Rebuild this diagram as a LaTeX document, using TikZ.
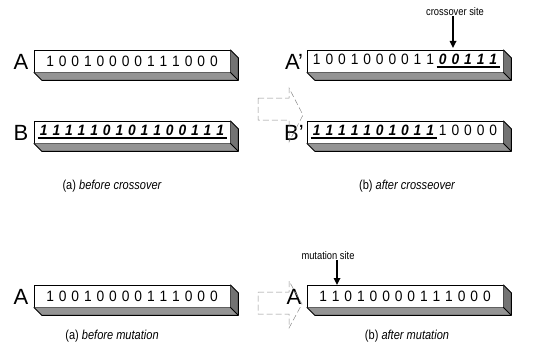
\documentclass[tikz,border=0pt]{standalone}
\usepackage{fontspec}
\setmainfont{Liberation Sans}
\newfontfamily\capfont[FakeStretch=0.85]{Liberation Sans}
\newfontfamily\bitfont[FakeStretch=0.92]{Liberation Sans}
\usetikzlibrary{arrows.meta}

% one digit per fixed-width cell
\newlength\bitw \setlength\bitw{12.6pt}
\def\bitsplit#1{\ifx#1\relax\else\makebox[\bitw]{#1}\expandafter\bitsplit\fi}
\newcommand\plainbits[1]{\bitsplit#1\relax}
\newcommand\ulbits[1]{{\bfseries\itshape\setbox0\hbox{\bitsplit#1\relax}%
  \rlap{\raisebox{-3pt}{\rule{\wd0}{1.3pt}}}\box0}}

\def\dep{8}
\tikzset{
  front/.style={draw, line width=0.5pt, fill=white, minimum width=196, minimum height=22,
    inner sep=0pt, font=\bitfont\fontsize{15}{15}\selectfont},
  bottomface/.style={fill=black!42},
  sideface/.style={fill=black!55},
  edge/.style={line width=1pt, line join=round},
  tag/.style={font=\fontsize{22}{22}\selectfont, inner sep=0pt},
  caption/.style={font=\capfont\fontsize{13}{13}\selectfont, inner sep=0pt},
  sitelabel/.style={font=\capfont\fontsize{11}{11}\selectfont, inner sep=0pt},
  pointer/.style={line width=1.6pt, -{Triangle[length=7pt,width=6.5pt]}},
  blockarrow/.style={draw=black!45, line width=0.5pt, dash pattern=on 6pt off 3pt}
}

% a chromosome bar: front face plus shaded bottom and side faces
\newcommand\chromobox[3]{%
  \node[front] (#1) at (#2) {#3};
  \path[bottomface] (#1.south west) -- (#1.south east) -- ([shift={(\dep,\dep)}]#1.south east)
    -- ([shift={(\dep,\dep)}]#1.south west) -- cycle;
  \path[sideface] (#1.north east) -- ([shift={(\dep,\dep)}]#1.north east)
    -- ([shift={(\dep,\dep)}]#1.south east) -- (#1.south east) -- cycle;
  \draw[edge] (#1.south west) -- ([shift={(\dep,\dep)}]#1.south west)
    -- ([shift={(\dep,\dep)}]#1.south east) -- ([shift={(\dep,\dep)}]#1.north east) -- (#1.north east);
  \draw[edge] (#1.south east) -- ([shift={(\dep,\dep)}]#1.south east);
}

\begin{document}
\begin{tikzpicture}[x=1pt, y=-1pt]
\useasboundingbox (0,0) rectangle (551,353);

% crossover
\node[tag] (tA) at (21,62) {A};
\chromobox{cA}{132,61}{\plainbits{10010000111000}}
\node[tag] (tB) at (21,133) {B};
\chromobox{cB}{132,132}{\ulbits{111110101100111}}
\node[caption] (capa) at (112,186) {(a) \itshape before crossover};

\node[tag] (tA2) at (294,62) {A'};
\chromobox{cA2}{405,61}{\plainbits{1001000011}\ulbits{00111}}
\node[tag] (tB2) at (294,133) {B'};
\chromobox{cB2}{405,132}{\ulbits{1111101011}\plainbits{10000}}
\node[caption] (capb) at (407,186) {(b) \itshape after crosseover};

\node[sitelabel] (xsite) at (455,12) {crossover site};
\coordinate (xpt) at (453,48);
\draw[pointer] (xsite.south -| xpt) -- (xpt);

\draw[blockarrow] (258,98) -- (289,98) -- (289,88) -- (303,115) -- (289,142) -- (289,120) -- (258,120) -- cycle;

% mutation
\node[tag] (tM) at (21,297) {A};
\chromobox{cM}{132,296}{\plainbits{10010000111000}}
\node[caption] (capc) at (112,336) {(a) \itshape before mutation};

\node[tag] (tM2) at (294,297) {A};
\chromobox{cM2}{405,296}{\plainbits{11010000111000}}
\node[caption] (capd) at (407,336) {(b) \itshape after mutation};

\node[sitelabel] (msite) at (328,256) {mutation site};
\coordinate (mpt) at (337,285);
\draw[pointer] (msite.south -| mpt) -- (mpt);

\draw[blockarrow] (258,292) -- (289,292) -- (289,281) -- (302,304) -- (289,328) -- (289,314) -- (258,314) -- cycle;
\end{tikzpicture}
\end{document}
